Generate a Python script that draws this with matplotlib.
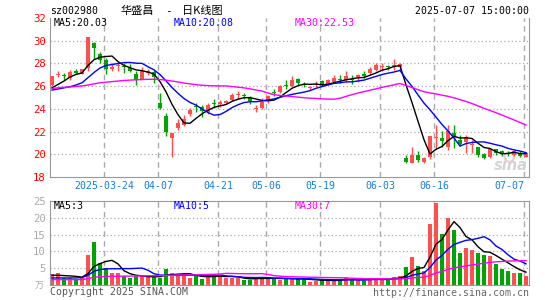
import numpy as np
import pandas as pd
import matplotlib
matplotlib.use('Agg')
import matplotlib.pyplot as plt

# daily candles, 2025-03-11 .. 2025-07-07 (80 trading days)
opens = [26.1, 27.0, 26.9, 26.75, 27.35, 27.1, 27.6, 29.8, 28.85, 28.3,
         27.5, 27.8, 27.75, 27.6, 27.05, 26.65, 27.2, 27.25, 24.55, 23.4,
         21.45, 22.3, 22.6, 23.55, 24.2, 24.2, 23.75, 24.5, 24.45, 24.5,
         24.8, 25.2, 25.15, 25.0, 24.0, 24.05, 24.65, 25.45, 25.45, 26.1,
         26.0, 26.6, 26.15, 25.85, 26.1, 26.45, 26.15, 26.4, 26.6, 26.5,
         26.6, 26.8, 27.1, 27.15, 27.45, 27.7, 27.75, 27.75, 27.65, 19.65,
         19.25, 19.95, 19.3, 19.75, 21.4, 21.45, 20.6, 21.85, 21.25, 21.05,
         20.85, 20.6, 20.05, 19.75, 20.45, 20.3, 20.1, 19.95, 20.15, 19.8]
closes = [26.85, 27.05, 26.85, 27.25, 27.15, 27.5, 30.35, 29.4, 28.3, 27.5,
          27.7, 27.9, 27.7, 27.35, 26.5, 27.35, 27.3, 26.8, 24.05, 22.0,
          21.85, 22.75, 23.15, 23.9, 24.15, 23.85, 24.3, 24.45, 24.6, 24.7,
          25.25, 25.25, 25.1, 24.65, 24.1, 24.6, 25.1, 25.4, 26.0, 26.05,
          26.5, 26.25, 26.1, 25.9, 26.2, 26.1, 26.55, 26.75, 26.55, 26.85,
          26.55, 27.0, 26.85, 27.55, 27.85, 27.75, 27.7, 27.8, 27.95, 19.35,
          19.95, 19.5, 19.65, 21.65, 21.45, 21.2, 22.05, 21.55, 20.9, 21.55,
          20.9, 19.95, 19.7, 20.45, 20.15, 20.0, 20.05, 20.25, 19.85, 20.15]
highs = [26.9, 27.35, 27.15, 27.4, 27.5, 27.55, 30.35, 29.85, 29.0, 28.5,
         28.0, 28.15, 28.0, 27.95, 27.3, 27.7, 27.5, 27.4, 25.4, 23.6,
         21.9, 23.1, 23.45, 24.1, 24.55, 24.3, 24.5, 24.85, 24.8, 24.8,
         25.4, 25.6, 25.4, 25.15, 24.35, 24.95, 25.2, 25.75, 26.1, 26.5,
         26.85, 26.75, 26.35, 26.05, 26.45, 26.5, 26.6, 26.95, 26.95, 27.35,
         27.0, 27.05, 27.35, 27.7, 28.05, 28.0, 27.85, 28.35, 28.0, 19.95,
         20.6, 20.3, 19.75, 21.65, 22.6, 22.05, 22.6, 22.6, 21.7, 21.7,
         21.3, 20.65, 20.15, 20.5, 20.5, 20.4, 20.3, 20.35, 20.25, 20.2]
lows = [26.0, 26.8, 26.55, 26.55, 27.05, 27.05, 27.3, 28.4, 28.0, 27.1,
        27.3, 27.3, 27.2, 27.25, 26.1, 26.6, 27.0, 26.3, 24.0, 21.65,
        19.8, 22.15, 22.45, 23.4, 23.7, 23.3, 23.55, 24.05, 24.2, 24.4,
        24.65, 24.85, 24.85, 24.45, 23.75, 23.95, 24.55, 25.1, 25.4, 25.75,
        25.9, 26.1, 25.9, 25.65, 25.95, 26.05, 26.1, 26.3, 26.25, 26.4,
        26.2, 26.4, 26.7, 27.0, 27.3, 27.3, 27.45, 27.45, 27.45, 19.2,
        19.2, 19.35, 19.2, 19.6, 20.5, 20.65, 20.4, 20.55, 20.7, 20.1,
        20.15, 19.8, 19.6, 19.65, 19.95, 19.85, 19.85, 19.85, 19.75, 19.75]
# volume, 万手
volumes = [3.2, 3.6, 2.2, 2.2, 1.7, 2.0, 8.9, 12.8, 6.4, 5.0,
           3.6, 3.6, 2.6, 2.1, 2.6, 2.8, 2.3, 2.6, 2.1, 4.8,
           3.6, 3.0, 3.2, 2.1, 2.6, 1.9, 2.6, 3.4, 2.6, 2.1,
           2.1, 2.0, 1.5, 1.5, 2.4, 2.3, 2.1, 1.8, 1.6, 2.0,
           2.0, 1.7, 1.7, 1.0, 1.3, 1.5, 1.5, 1.4, 1.3, 2.3,
           1.7, 1.5, 1.2, 2.0, 2.2, 1.5, 1.5, 2.5, 2.7, 5.3,
           8.3, 5.7, 4.1, 18.2, 24.5, 15.2, 20.0, 16.4, 9.4, 11.1,
           10.4, 9.6, 9.0, 8.6, 6.3, 4.9, 4.2, 3.5, 3.7, 2.8]

ma5_head = [25.85, 26.15, 26.45, 26.8]
ma10_head = [25.65, 25.75, 25.85, 25.95, 26.1, 26.3, 26.75, 27.2, 27.6]
ma30_head = [25.8, 25.85, 25.9, 25.93, 25.97, 26.02, 26.1, 26.2, 26.3, 26.35,
             26.4, 26.45, 26.5, 26.53, 26.56, 26.58, 26.6, 26.6, 26.58, 26.53,
             26.45, 26.37, 26.27, 26.2, 26.13, 26.08, 26.05, 26.03, 26.02]
vol_ma5_head = [2.9, 2.9, 2.8, 2.7]
vol_ma10_head = [2.1, 2.1, 2.1, 2.1, 2.1, 2.2, 2.9, 4.1, 4.6]
vol_ma30_head = [1.6, 1.6, 1.6, 1.6, 1.6, 1.6, 1.9, 2.3, 2.45, 2.55,
                 2.6, 2.6, 2.65, 2.65, 2.7, 2.7, 2.75, 2.75, 2.8, 2.85,
                 2.9, 2.95, 3.0, 3.0, 3.05, 3.1, 3.15, 3.2, 3.25]

tick_pos = [9, 18, 28, 36, 45, 55, 64, 79]
tick_labels = ['2025-03-24', '04-07', '04-21', '05-06', '05-19', '06-03', '06-16', '07-07']

W, H = 545, 300
RED = '#ff5050'
GREEN = '#00a400'
GRID = '#aaaaaa'
MONO = 'DejaVu Sans Mono'
CJK = ['Noto Sans CJK SC', 'DejaVu Sans']
FS = 7.1


def moving(values, n, head):
    s = pd.Series(values).rolling(n).mean().to_numpy()
    s[:len(head)] = head
    return s


def px(x, y):
    return x / W, 1 - y / H


o = np.array(opens)
c = np.array(closes)
hi = np.array(highs)
lo = np.array(lows)
v = np.array(volumes)
x = np.arange(len(c))
up = c >= o
cols = np.where(up, RED, GREEN)

fig = plt.figure(figsize=(W / 100, H / 100), dpi=100)
ax = fig.add_axes([50 / W, 1 - 177 / H, 479 / W, 159 / H])
axv = fig.add_axes([50 / W, 1 - 285 / H, 479 / W, 84 / H])

xlim = (-1 / 3, 79.5)
grid_x = [p - 1 / 3 for p in tick_pos]

# price panel
for yy in range(20, 32, 2):
    ax.axhline(yy, color=GRID, lw=0.9, ls=(0, (1, 2)), zorder=0)
for gx in grid_x:
    ax.axvline(gx, color=GRID, lw=1, ls=(0, (4, 3)), zorder=0)
ax.vlines(x, lo, hi, colors=cols, lw=1, zorder=2)
body = np.maximum(np.abs(c - o), 0.09)
ax.bar(x, body, bottom=np.minimum(o, c), width=0.8, color=cols, lw=0, zorder=3)
ax.plot(x, moving(closes, 5, ma5_head), color='black', lw=1, zorder=4)
ax.plot(x, moving(closes, 10, ma10_head), color='#0000ff', lw=1, zorder=4)
ax.plot(x, moving(closes, 30, ma30_head), color='#ff00ff', lw=1, zorder=4)
ax.set_xlim(*xlim)
ax.set_ylim(18, 32)
ax.set_yticks(range(18, 33, 2))
ax.set_yticklabels([str(t) for t in range(18, 33, 2)], color='#ff0000',
                   fontsize=FS + 0.6, family=MONO)
ax.set_xticks(grid_x)
ax.set_xticklabels(tick_labels, color='#1a7ccc', fontsize=FS, family=MONO)
ax.get_xticklabels()[-1].set_ha('right')
ax.tick_params(length=0, pad=3)
ax.spines['top'].set_visible(False)
for s in ['left', 'bottom', 'right']:
    ax.spines[s].set_color('#999999')

# sina watermark
ax.scatter([76.2], [19.75], s=45, facecolors='none', edgecolors='#f2caca', lw=1.5, zorder=1)
ax.text(79.3, 18.35, 'sina', ha='right', va='bottom', fontsize=10.5, style='italic',
        weight='bold', color='#d4d4d4', zorder=1)

# volume panel
for yy in range(5, 25, 5):
    axv.axhline(yy, color=GRID, lw=0.9, ls=(0, (1, 2)), zorder=0)
for gx in grid_x:
    axv.axvline(gx, color=GRID, lw=1, ls=(0, (4, 3)), zorder=0)
axv.bar(x, v, width=0.8, color=cols, lw=0, zorder=2)
axv.plot(x, moving(volumes, 5, vol_ma5_head), color='black', lw=1, zorder=3)
axv.plot(x, moving(volumes, 10, vol_ma10_head), color='#0000ff', lw=1, zorder=3)
axv.plot(x, moving(volumes, 30, vol_ma30_head), color='#ff00ff', lw=1, zorder=3)
axv.set_xlim(*xlim)
axv.set_ylim(0, 25)
axv.set_yticks(range(5, 26, 5))
axv.set_yticklabels([str(t) for t in range(5, 26, 5)], color='#aaaaaa',
                    fontsize=FS + 0.6, family=MONO)
axv.set_xticks([])
axv.tick_params(length=0, pad=3)
for s in axv.spines.values():
    s.set_color('#999999')

# header texts
fig.text(*px(50, 11), 'sz002980', fontsize=FS, family=MONO, va='center')
fig.text(*px(121, 11), '华盛昌', fontsize=8, va='center', family=CJK)
fig.text(*px(168, 11), '-', fontsize=8, va='center', ha='center', family=MONO)
fig.text(*px(182, 11), '日K线图', fontsize=8, va='center', family=CJK)
fig.text(*px(529, 11), '2025-07-07 15:00:00', fontsize=FS, family=MONO,
         va='center', ha='right')
fig.text(*px(54, 23), 'MA5:20.03', fontsize=FS, family=MONO, va='center', color='black')
fig.text(*px(174, 23), 'MA10:20.08', fontsize=FS, family=MONO, va='center', color='#0000ff')
fig.text(*px(295, 23), 'MA30:22.53', fontsize=FS, family=MONO, va='center', color='#ff00ff')
fig.text(*px(54, 206), 'MA5:3', fontsize=FS, family=MONO, va='center', color='black')
fig.text(*px(174, 206), 'MA10:5', fontsize=FS, family=MONO, va='center', color='#0000ff')
fig.text(*px(295, 206), 'MA30:7', fontsize=FS, family=MONO, va='center', color='#ff00ff')
fig.text(*px(44, 286), '万', fontsize=6.5, va='center', ha='right', color='#aaaaaa',
         family=CJK)
fig.text(*px(50, 292), 'Copyright 2025 SINA.COM', fontsize=FS, family=MONO,
         va='center', color='#555555')
fig.text(*px(529, 293), 'http://finance.sina.com.cn', fontsize=FS, family=MONO,
         va='center', ha='right', color='#666666')

fig.savefig('out.png', dpi=100)
